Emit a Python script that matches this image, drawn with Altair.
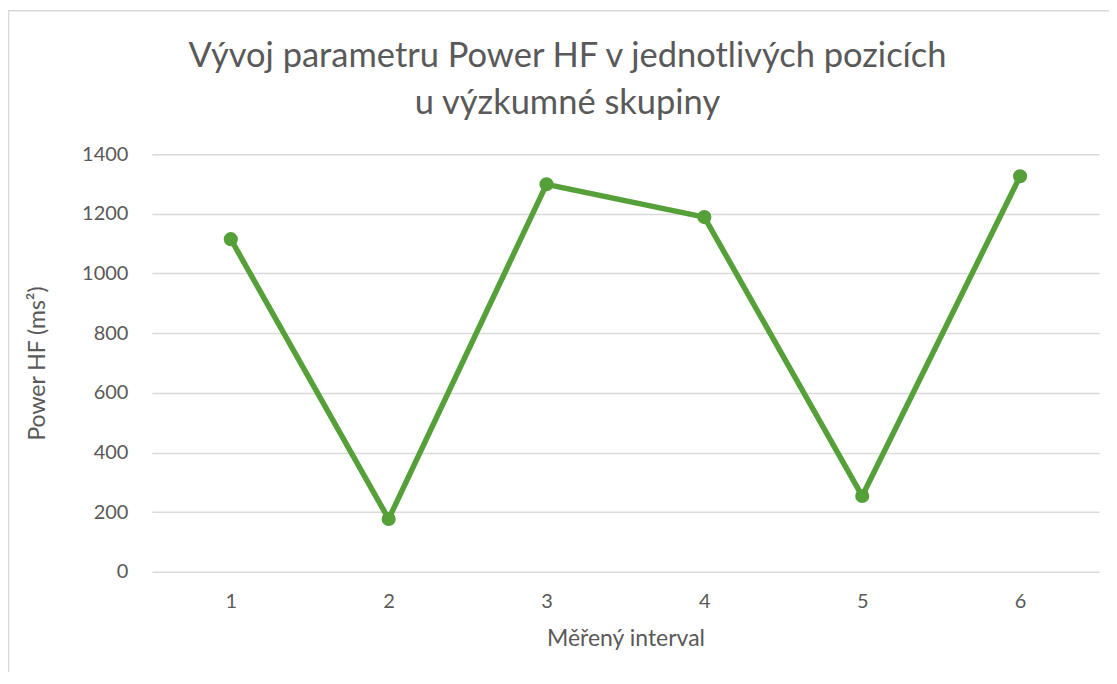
import altair as alt
import pandas as pd

intervals = ["1", "2", "3", "4", "5", "6"]
power_hf = [1115, 177, 1299, 1189, 254, 1326]
title_text = "Vývoj parametru Power HF v jednotlivých pozicích\nu výzkumné skupiny"

df = pd.DataFrame({"interval": intervals, "value": power_hf})

FONT = "Lato"
GREY = "#595959"
GREEN = "#56a03a"

x_enc = alt.X("interval:N", sort=intervals,
              scale=alt.Scale(type="point", padding=0.5),
              axis=alt.Axis(title="Měřený interval", labelAngle=0, labelPadding=20,
                            titlePadding=16, ticks=False, domain=False, grid=False))
y_enc = alt.Y("value:Q",
              scale=alt.Scale(domain=[0, 1400], nice=False),
              axis=alt.Axis(title="Power HF (ms²)", values=[0, 200, 400, 600, 800, 1000, 1200, 1400],
                            format="d", ticks=False, domain=False, labelPadding=24, titlePadding=32,
                            gridColor="#d9d9d9", gridWidth=1.5))

base = alt.Chart(df)
line = base.mark_line(color=GREEN, strokeWidth=5.5).encode(x=x_enc, y=y_enc)
pts = base.mark_circle(color=GREEN, size=200, opacity=1).encode(x=x_enc, y=y_enc)

border = alt.Chart(pd.DataFrame({"a": [0]})).mark_rect(
    fill=None, stroke="#d9d9d9", strokeWidth=1.5, clip=False
).encode(x=alt.value(-143.5), x2=alt.value(1300), y=alt.value(-143.5), y2=alt.value(900))

title = alt.Chart(pd.DataFrame({"a": [0]})).mark_text(
    font=FONT, fontSize=34.5, color=GREY, align="center", baseline="alphabetic",
    lineBreak="\n", lineHeight=47, clip=False
).encode(x=alt.value(416), y=alt.value(-87), text=alt.value(title_text))

chart = alt.layer(border, line, pts, title).properties(
    width=948, height=418,
    autosize=alt.AutoSizeParams(type="none"),
    padding={"left": 144, "top": 146, "right": 10, "bottom": 100},
).configure_view(stroke=None).configure_axis(
    labelFont=FONT, titleFont=FONT, labelFontSize=20, titleFontSize=23,
    labelColor=GREY, titleColor=GREY, titleFontWeight="normal",
)

chart.save("out.html", embed_options={"renderer": "svg", "actions": False})
